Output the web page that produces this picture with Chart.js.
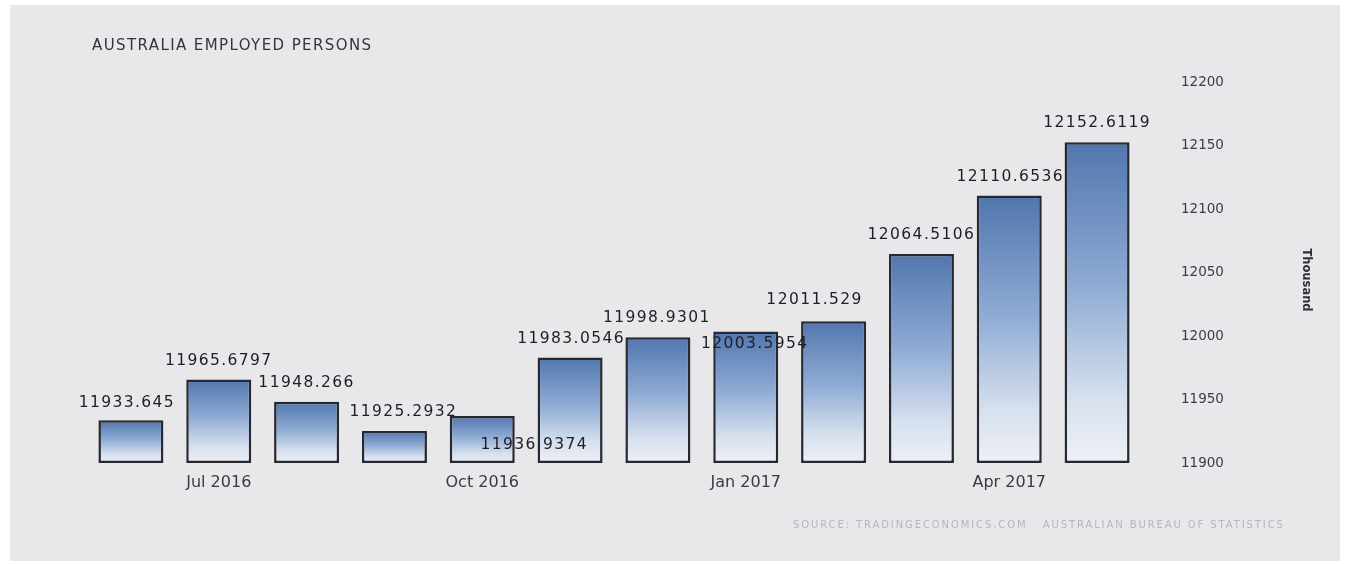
<!DOCTYPE html>
<html>
<head>
<meta charset="utf-8">
<script src="https://cdn.jsdelivr.net/npm/chart.js@4/dist/chart.umd.min.js"></script>
<style>
  html, body { margin: 0; padding: 0; background: #ffffff; }
  #wrap { position: relative; width: 1345px; height: 564px; }
</style>
</head>
<body>
<div id="wrap"><canvas id="c" width="1345" height="564"></canvas></div>
<script>
// ---- data ----
const categories = ['Jun 2016','Jul 2016','Aug 2016','Sep 2016','Oct 2016','Nov 2016',
                    'Dec 2016','Jan 2017','Feb 2017','Mar 2017','Apr 2017','May 2017'];
const employed = [11933.645, 11965.6797, 11948.266, 11925.2932, 11936.9374, 11983.0546,
                  11998.9301, 12003.5954, 12011.529, 12064.5106, 12110.6536, 12152.6119];
const valueLabels = ['11933.645','11965.6797','11948.266','11925.2932','11936.9374','11983.0546',
                     '11998.9301','12003.5954','12011.529','12064.5106','12110.6536','12152.6119'];
const xTickLabels = ['Jul 2016','Oct 2016','Jan 2017','Apr 2017'];
const yTicks = [11900, 11950, 12000, 12050, 12100, 12150, 12200];
const titleText = 'AUSTRALIA EMPLOYED PERSONS';
const unitText = 'Thousand';
const sourceText = 'SOURCE: TRADINGECONOMICS.COM   AUSTRALIAN BUREAU OF STATISTICS';

// label placement nudges (pixels) for overlapping value labels
const labelNudge = [[-4,2],[0,0],[0,0],[9,0],[52,48],[1,0],[-1,0],[9,32],[-19,-2],[0,0],[1,0],[0,0]];

const bgPlugin = {
  id: 'bg',
  beforeDraw(chart) {
    const c = chart.ctx;
    c.save();
    c.fillStyle = '#ffffff';
    c.fillRect(0, 0, chart.width, chart.height);
    c.fillStyle = '#e8e8eb';
    c.fillRect(10, 5, 1330, 556);
    c.restore();
  },
  afterDraw(chart) {
    const c = chart.ctx;
    c.save();
    // title
    c.fillStyle = '#34343c';
    c.font = '15px "DejaVu Sans"';
    c.letterSpacing = '1.4px';
    c.textBaseline = 'middle';
    c.textAlign = 'left';
    c.fillText(titleText, 92, 46);
    // source
    c.fillStyle = '#b4b6c0';
    c.font = '10px "DejaVu Sans"';
    c.letterSpacing = '1.9px';
    c.fillText(sourceText, 793, 525);
    // unit label
    c.save();
    c.translate(1306, 280);
    c.rotate(Math.PI / 2);
    c.fillStyle = '#2e2e36';
    c.font = 'bold 11.5px "DejaVu Sans"';
    c.letterSpacing = '0px';
    c.textAlign = 'center';
    c.fillText(unitText, 0, 0);
    c.restore();
    // value labels
    const meta = chart.getDatasetMeta(0);
    c.fillStyle = '#1e1e24';
    c.font = '15.5px "DejaVu Sans"';
    c.letterSpacing = '1.4px';
    c.textAlign = 'center';
    c.textBaseline = 'middle';
    meta.data.forEach((bar, i) => {
      const n = labelNudge[i] || [0,0];
      c.fillText(valueLabels[i], bar.x + n[0], bar.y - 19 + n[1]);
    });
    c.restore();
  }
};

const ctx = document.getElementById('c').getContext('2d');
new Chart(ctx, {
  type: 'bar',
  data: {
    labels: categories,
    datasets: [{
      data: employed,
      base: yTicks[0],
      backgroundColor(context) {
        const chart = context.chart;
        const y = chart.scales.y;
        if (!y || !chart.chartArea) return '#8aa6cf';
        const v = context.raw;
        const top = y.getPixelForValue(v);
        const bottom = y.getPixelForValue(y.min);
        if (!isFinite(top) || !isFinite(bottom) || bottom <= top) return '#8aa6cf';
        const g = chart.ctx.createLinearGradient(0, top, 0, bottom);
        g.addColorStop(0, '#5176ae');
        g.addColorStop(0.45, '#8fabd4');
        g.addColorStop(0.8, '#d6e0ee');
        g.addColorStop(1, '#eef0f5');
        return g;
      },
      borderColor: '#262932',
      borderWidth: 2.5,
      borderSkipped: false,
      clip: false,
      barPercentage: 0.74,
      categoryPercentage: 1.0
    }]
  },
  options: {
    responsive: false,
    animation: false,
    devicePixelRatio: 1,
    layout: { padding: { left: 87, right: 33, top: 82, bottom: 0 } },
    plugins: {
      legend: { display: false },
      tooltip: { enabled: false }
    },
    scales: {
      x: {
        grid: { display: false, drawTicks: false },
        border: { display: false },
        ticks: {
          autoSkip: false,
          maxRotation: 0,
          padding: 10,
          color: '#3a3a42',
          font: { family: 'DejaVu Sans', size: 16 },
          callback(val, idx) {
            const lab = categories[idx];
            return xTickLabels.includes(lab) ? lab : '';
          }
        },
        afterFit(scale) { scale.height = 101; }
      },
      y: {
        position: 'right',
        min: yTicks[0],
        max: yTicks[yTicks.length - 1],
        afterBuildTicks(scale) { scale.ticks = yTicks.map(v => ({ value: v })); },
        grid: { display: false, drawTicks: false },
        border: { display: false },
        ticks: {
          padding: 40,
          color: '#3c3c46',
          font: { family: 'DejaVu Sans', size: 13.5 },
          callback(v) { return String(v); }
        },
        title: { display: false },
        afterFit(scale) { scale.width = 171; }
      }
    }
  },
  plugins: [bgPlugin]
});
</script>
</body>
</html>
